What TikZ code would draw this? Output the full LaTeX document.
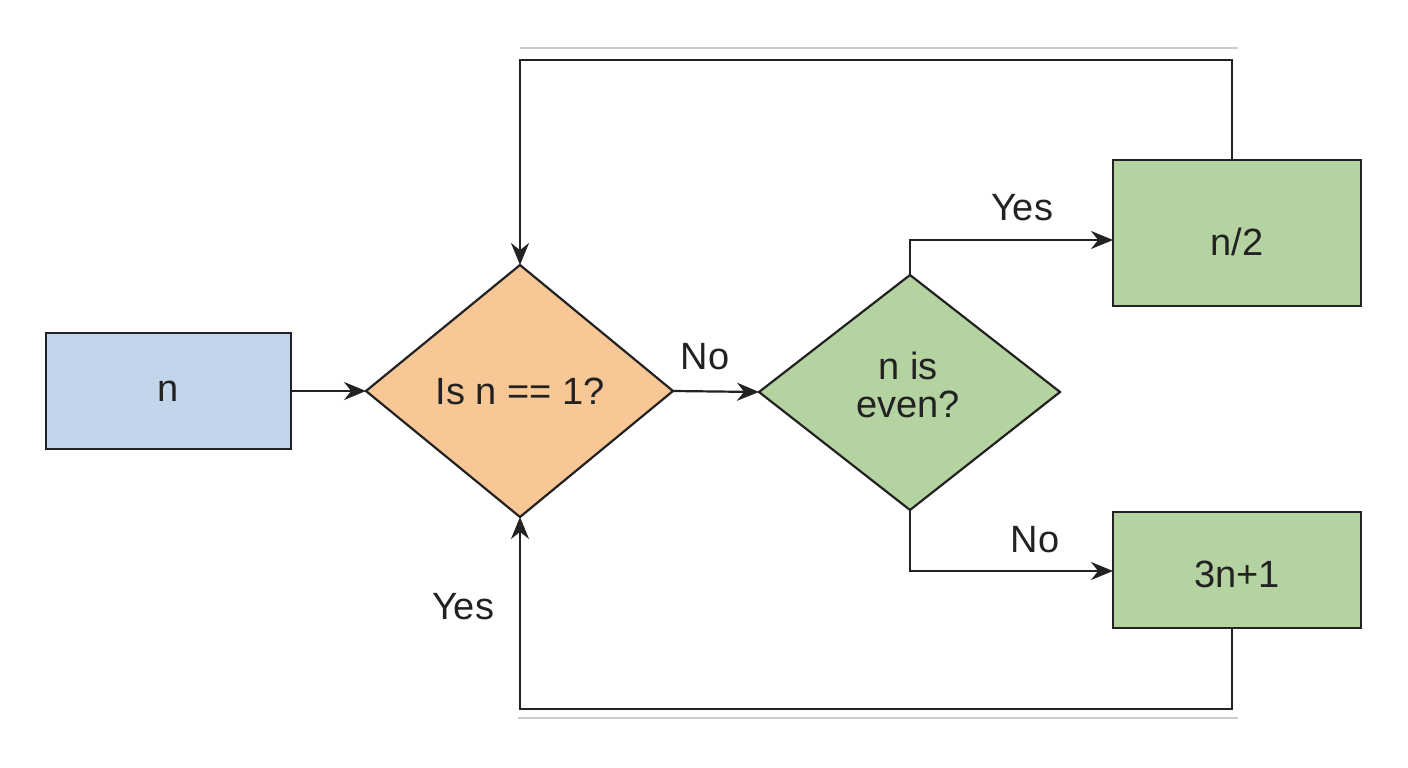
\documentclass[tikz,border=0pt]{standalone}
\usepackage{fontspec}
\setmainfont{Liberation Sans}
\usetikzlibrary{arrows.meta}
\definecolor{bluef}{HTML}{C3D5EA}
\definecolor{orangef}{HTML}{F7C795}
\definecolor{greenf}{HTML}{B5D3A0}
\definecolor{edge}{HTML}{222222}
\begin{document}
\begin{tikzpicture}[x=1pt,y=-1pt,
  every node/.style={font=\fontsize{38}{44}\selectfont, text=edge},
  box/.style={draw=edge, line width=2.2pt},
  con/.style={draw=edge, line width=2.2pt, -{Stealth[length=22pt,width=18pt]}},
  lab/.style={font=\fontsize{38}{44}\selectfont}]
\useasboundingbox (0,0) rectangle (1408,768);
\fill[white] (0,0) rectangle (1408,768);
\draw[gray!40, line width=1.5pt] (520,48) -- (1238,48);
\draw[gray!40, line width=1.5pt] (518,718) -- (1238,718);
% shapes
\draw[box, fill=bluef] (46,333) rectangle (291,449);
\node (n) at (168.5,391) {n};
\coordinate (nE) at (291,391);
\draw[box, fill=orangef] (366,391) -- (520,265) -- (673,391) -- (520,517) -- cycle;
\node (d1) at (520,391) {Is n == 1?};
\coordinate (d1W) at (366,391); \coordinate (d1E) at (673,391);
\coordinate (d1N) at (520,265); \coordinate (d1S) at (520,517);
\draw[box, fill=greenf] (759,392) -- (910,275) -- (1060,392) -- (910,510) -- cycle;
\node[align=center] (d2) at (908,385) {n is\\[-6pt]even?};
\coordinate (d2W) at (759,392); \coordinate (d2N) at (910,275); \coordinate (d2S) at (910,510);
\draw[box, fill=greenf] (1113,160) rectangle (1361,306);
\node (h) at (1237,242) {n/2};
\coordinate (hW) at (1113,240); \coordinate (hN) at (1232,160);
\draw[box, fill=greenf] (1113,512) rectangle (1361,628);
\node (t) at (1237,574) {3n+1};
\coordinate (tW) at (1113,571); \coordinate (tS) at (1232,628);
% connectors
\draw[con] (nE) -- (d1W);
\draw[con] (d1E) -- (d2W);
\draw[con] (d2N) -- (910,240) -- (hW);
\draw[con] (d2S) -- (910,571) -- (tW);
\draw[con] (hN) -- (1232,60) -- (520,60) -- (d1N);
\draw[con] (tS) -- (1232,709) -- (520,709) -- (d1S);
% labels
\node[lab] (l1) at (705,357) {No};
\node[lab] (l2) at (1022,208) {Yes};
\node[lab] (l3) at (1035,540) {No};
\node[lab] (l4) at (463,607) {Yes};
\end{tikzpicture}
\end{document}
